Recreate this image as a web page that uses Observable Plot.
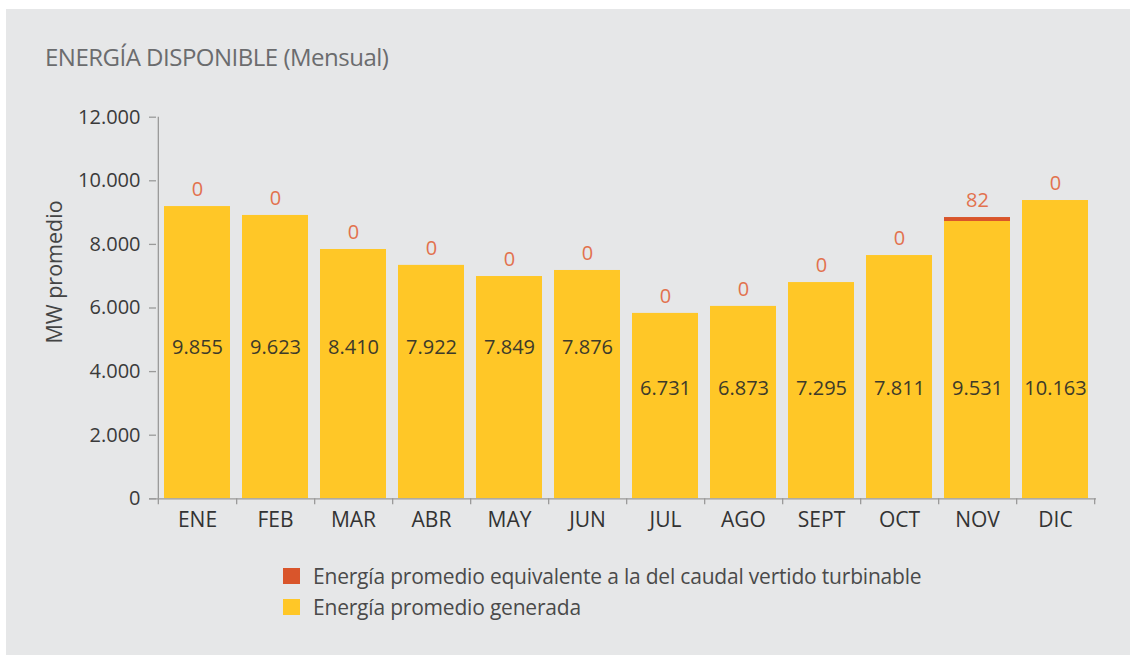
<!DOCTYPE html>
<html><head><meta charset="utf-8">
<script src="https://cdn.jsdelivr.net/npm/d3@7"></script>
<script src="https://cdn.jsdelivr.net/npm/@observablehq/plot@0.6"></script>
<style>
html,body{margin:0;padding:0;background:#fff;width:1130px;height:655px;overflow:hidden;font-family:"Open Sans",sans-serif}
#panel{position:absolute;left:6px;top:9px;width:1124px;height:646px;background:#e6e7e8}
#title{position:absolute;left:45px;top:40px;font-size:24px;color:#6b6c6e;letter-spacing:-0.5px;white-space:nowrap}
#chart{position:absolute;left:0;top:90px}
#legend{position:absolute;left:283px;top:560px;font-size:21px;color:#4a4a4a;letter-spacing:-0.2px}
.row{display:flex;align-items:center;height:31.5px;white-space:nowrap}
.sw{width:17px;height:16px;margin-right:13px;flex:none}
</style></head>
<body>
<div id="panel"></div>
<div id="title">ENERGÍA DISPONIBLE (Mensual)</div>
<div id="chart"></div>
<div id="legend"></div>
<script>
const months = ["ENE","FEB","MAR","ABR","MAY","JUN","JUL","AGO","SEPT","OCT","NOV","DIC"];
// bar heights as drawn in the reference (MW promedio)
const generated = [9190, 8910, 7840, 7340, 6990, 7180, 5830, 6050, 6800, 7650, 8720, 9380];
const spilled = [0, 0, 0, 0, 0, 0, 0, 0, 0, 0, 125, 0];
// printed labels
const generatedLabels = ["9.855","9.623","8.410","7.922","7.849","7.876","6.731","6.873","7.295","7.811","9.531","10.163"];
const spilledLabels = ["0","0","0","0","0","0","0","0","0","0","82","0"];
const yTicks = [0, 2000, 4000, 6000, 8000, 10000, 12000];
const seriesNames = ["Energía promedio equivalente a la del caudal vertido turbinable", "Energía promedio generada"];
const seriesColors = ["#d9552b", "#ffc727"];

const rows = months.flatMap((m, i) => [
  {month: m, serie: seriesNames[1], value: generated[i]},
  {month: m, serie: seriesNames[0], value: spilled[i]}
]);
const totals = months.map((m, i) => ({month: m, total: generated[i] + spilled[i], label: spilledLabels[i]}));
const inner = months.map((m, i) => ({month: m, label: generatedLabels[i], y: i < 6 ? 4750 : 3450}));

const W = 1130, H = 460, mL = 156, mR = 34, mT = 26.7, mB = 51.7;
const step = (W - mL - mR) / months.length;
const axisCol = "#9a9a9a";
const fmt = d => d3.format(",")(d).replace(/,/g, ".");

const chart = Plot.plot({
  width: W, height: H,
  marginLeft: mL, marginRight: mR, marginTop: mT, marginBottom: mB,
  style: {fontFamily: "Open Sans, sans-serif", background: "transparent", color: "#3a3a3a"},
  x: {domain: months, paddingInner: 0.157, paddingOuter: 0.0785, label: null},
  y: {domain: [0, 12000], label: null},
  color: {domain: seriesNames, range: seriesColors},
  marks: [
    Plot.barY(rows, {x: "month", y: "value", fill: "serie", order: seriesNames.slice().reverse()}),
    Plot.ruleY([0], {stroke: axisCol, strokeWidth: 1.3, insetLeft: -7}),
    Plot.ruleX([months[0]], {x: d => d, dx: -step / 2, stroke: axisCol, strokeWidth: 1.3}),
    Plot.axisX({tickSize: 6, text: null, dx: step / 2, stroke: axisCol, strokeWidth: 1.3}),
    Plot.axisX({ticks: [months[0]], tickSize: 6, text: null, dx: -step / 2, stroke: axisCol, strokeWidth: 1.3}),
    Plot.axisX({tickSize: 0, tickPadding: 13, fontSize: 21, label: null, fill: "#333"}),
    Plot.axisY({ticks: yTicks, tickSize: 7, tickPadding: 9, tickFormat: fmt, fontSize: 20, stroke: axisCol, strokeWidth: 1.3, fill: "#3a3a3a", label: null}),
    Plot.text(["MW promedio"], {frameAnchor: "left", textAnchor: "middle", rotate: -90, dx: -101, dy: -36, fontSize: 21.5, fill: "#444"}),
    Plot.text(inner, {x: "month", y: "y", text: "label", fontSize: 20, fill: "#3d3a2a", letterSpacing: -0.3}),
    Plot.text(totals, {x: "month", y: "total", text: "label", dy: -17, fontSize: 20, fill: "#e2714e"})
  ]
});
document.getElementById("chart").appendChild(chart);

const leg = document.getElementById("legend");
seriesNames.forEach((n, i) => {
  const r = document.createElement("div"); r.className = "row";
  const s = document.createElement("div"); s.className = "sw"; s.style.background = seriesColors[i];
  const t = document.createElement("span"); t.textContent = n;
  r.appendChild(s); r.appendChild(t); leg.appendChild(r);
});
</script>
</body></html>
